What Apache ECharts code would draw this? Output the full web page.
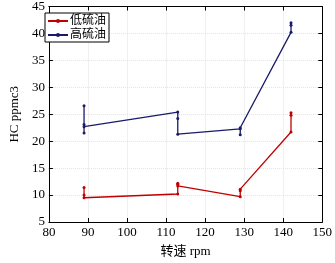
<!DOCTYPE html>
<html>
<head>
<meta charset="utf-8">
<script src="https://cdn.jsdelivr.net/npm/echarts@6/dist/echarts.min.js"></script>
<style>
  html, body { margin: 0; padding: 0; background: #fff; }
  #chart { width: 335px; height: 263px; }
</style>
</head>
<body>
<div id="chart"></div>
<script>
// values, repeated x = several readings at one speed
var lowX  = [89, 89, 89, 113, 113, 113, 113, 129, 129, 129, 142, 142, 142];
var lowY  = [11.4, 10.0, 9.5, 10.2, 12.2, 11.7, 12.0, 9.7, 11.1, 10.8, 21.7, 24.8, 25.3];
var highX = [89, 89, 89, 89, 113, 113, 113, 129, 129, 129, 142, 142, 142];
var highY = [26.6, 21.5, 23.1, 22.7, 25.4, 24.2, 21.3, 22.3, 21.2, 22.5, 40.2, 42.0, 41.5];
var seriesNames = ['低硫油', '高硫油'];

function pairs(xs, ys) {
    var out = [];
    for (var i = 0; i < xs.length; i++) out.push([xs[i], ys[i]]);
    return out;
}

var font = '"Liberation Serif", "Noto Sans CJK SC", serif';
var chart = echarts.init(document.getElementById('chart'));

function xAx(pos, show) {
    return {
        type: 'value', position: pos, min: 80, max: 150, interval: 10,
        name: show ? '转速 rpm' : '', nameLocation: 'middle', nameGap: 23,
        nameTextStyle: { fontFamily: font, fontSize: 13, color: '#000' },
        axisLine: { show: true, onZero: false, lineStyle: { color: '#000', width: 1 } },
        axisTick: { show: true, inside: true, length: 4, lineStyle: { color: '#000' } },
        axisLabel: { show: show, fontFamily: font, fontSize: 13, color: '#000', margin: 4 },
        splitLine: { show: show, lineStyle: { color: '#e2e2e2', type: 'dotted' } }
    };
}
function yAx(pos, show) {
    return {
        type: 'value', position: pos, min: 5, max: 45, interval: 5,
        name: show ? 'HC ppmc3' : '', nameLocation: 'middle', nameGap: 25,
        nameTextStyle: { fontFamily: font, fontSize: 13, color: '#000' },
        axisLine: { show: true, onZero: false, lineStyle: { color: '#000', width: 1 } },
        axisTick: { show: true, inside: true, length: 4, lineStyle: { color: '#000' } },
        axisLabel: { show: show, fontFamily: font, fontSize: 13, color: '#000', margin: 4 },
        splitLine: { show: show, lineStyle: { color: '#e2e2e2', type: 'dotted' } }
    };
}

chart.setOption({
    animation: false,
    grid: { left: 37, right: 10, top: 6, bottom: 30 },
    legend: {
        data: seriesNames,
        orient: 'vertical',
        left: 45, top: 13,
        itemWidth: 20, itemHeight: 5, itemGap: 2,
        padding: [2, 3, 1, 2],
        borderColor: '#000', borderWidth: 1, backgroundColor: '#fff',
        textStyle: { fontFamily: font, fontSize: 12, color: '#000', padding: [0, 0, 0, -3] }
    },
    xAxis: [xAx('bottom', true), xAx('top', false)],
    yAxis: [yAx('left', true), yAx('right', false)],
    series: [
        {
            name: seriesNames[0], type: 'line', data: pairs(lowX, lowY),
            color: '#c00000', symbol: 'circle', symbolSize: 3,
            lineStyle: { width: 1.3 }
        },
        {
            name: seriesNames[1], type: 'line', data: pairs(highX, highY),
            color: '#1a1a6a', symbol: 'circle', symbolSize: 3,
            lineStyle: { width: 1.3 }
        }
    ]
});
</script>
</body>
</html>
